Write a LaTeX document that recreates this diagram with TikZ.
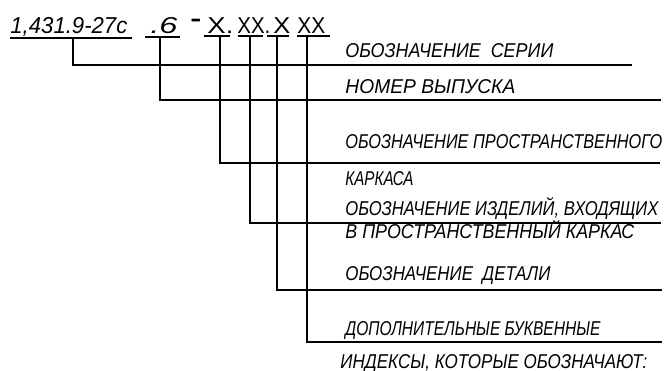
\documentclass[tikz,border=0pt]{standalone}
\usepackage{fontspec}
\setmainfont{Liberation Sans}
\usepackage{graphicx}
\setlength{\unitlength}{0.5pt}
% squeeze a text to a given width (in px of the sheet)
\newcommand{\fitw}[2]{\resizebox{#1\unitlength}{\height}{#2}}
\tikzset{
  code/.style={anchor=base west, inner sep=0pt, font=\fontsize{11.5}{13}\selectfont},
  lbl/.style={anchor=base west, inner sep=0pt, font=\fontsize{10}{12}\selectfont\itshape},
  bar/.style={line width=1.3pt}
}

\begin{document}
\begin{tikzpicture}[x=0.5pt, y=-0.5pt]
    \useasboundingbox (0,0) rectangle (669,370);

    % Designation code
    \node[code] (ser) at (10,33) {\fitw{117}{\itshape 1,431.9-27с}};
    \node[code] (vyp) at (150,33) {\fitw{27}{\itshape .6}};
    \node[code] (dash) at (190,26) {\fitw{11}{\bfseries -}};
    \node[code] (kar) at (207,33) {\fitw{26}{X.}};
    \node[code] (izd) at (237,33) {\fitw{33}{XX.}};
    \node[code] (det) at (273,33) {\fitw{17}{X}};
    \node[code] (ind) at (297,33) {\fitw{28}{XX}};

    % Underlines
    \draw[bar] (10,38) -- (132,38);
    \draw[bar] (145,37) -- (180,37);
    \draw[bar] (204,36) -- (230,36);
    \draw[bar] (238,36) -- (263,36);
    \draw[bar] (267,36) -- (289,36);
    \draw[bar] (297,36) -- (330,36);

    % Leader tops and ends
    \coordinate (t1) at (73,38);
    \coordinate (t2) at (160,37);
    \coordinate (t3) at (220,36);
    \coordinate (t4) at (250,36);
    \coordinate (t5) at (277,36);
    \coordinate (t6) at (307,36);
    \coordinate (e1) at (632,65);
    \coordinate (e2) at (661,100);
    \coordinate (e3) at (660,163);
    \coordinate (e4) at (661,223);
    \coordinate (e5) at (662,290);
    \coordinate (e6) at (662,342);

    % Leaders
    \draw[bar] (t1) |- (e1);
    \draw[bar] (t2) |- (e2);
    \draw[bar] (t3) |- (e3);
    \draw[bar] (t4) |- (e4);
    \draw[bar] (t5) |- (e5);
    \draw[bar] (t6) |- (e6);

    % Explanations
    \node[lbl] (l1) at (345,57) {\fitw{208}{ОБОЗНАЧЕНИЕ\ \ СЕРИИ}};
    \node[lbl] (l2) at (345,93) {\fitw{170}{НОМЕР ВЫПУСКА}};
    \node[lbl] (l3) at (345,148) {\fitw{317}{ОБОЗНАЧЕНИЕ ПРОСТРАНСТВЕННОГО}};
    \node[lbl] (l3b) at (345,185) {\fitw{68}{КАРКАСА}};
    \node[lbl] (l4) at (345,215) {\fitw{313}{ОБОЗНАЧЕНИЕ ИЗДЕЛИЙ, ВХОДЯЩИХ}};
    \node[lbl] (l4b) at (345,238) {\fitw{289}{В ПРОСТРАНСТВЕННЫЙ КАРКАС}};
    \node[lbl] (l5) at (345,280) {\fitw{205}{ОБОЗНАЧЕНИЕ\ \ ДЕТАЛИ}};
    \node[lbl] (l6) at (345,335) {\fitw{255}{ДОПОЛНИТЕЛЬНЫЕ БУКВЕННЫЕ}};
    \node[lbl] (l6b) at (340,368) {\fitw{307}{ИНДЕКСЫ, КОТОРЫЕ ОБОЗНАЧАЮТ:}};
\end{tikzpicture}
\end{document}
